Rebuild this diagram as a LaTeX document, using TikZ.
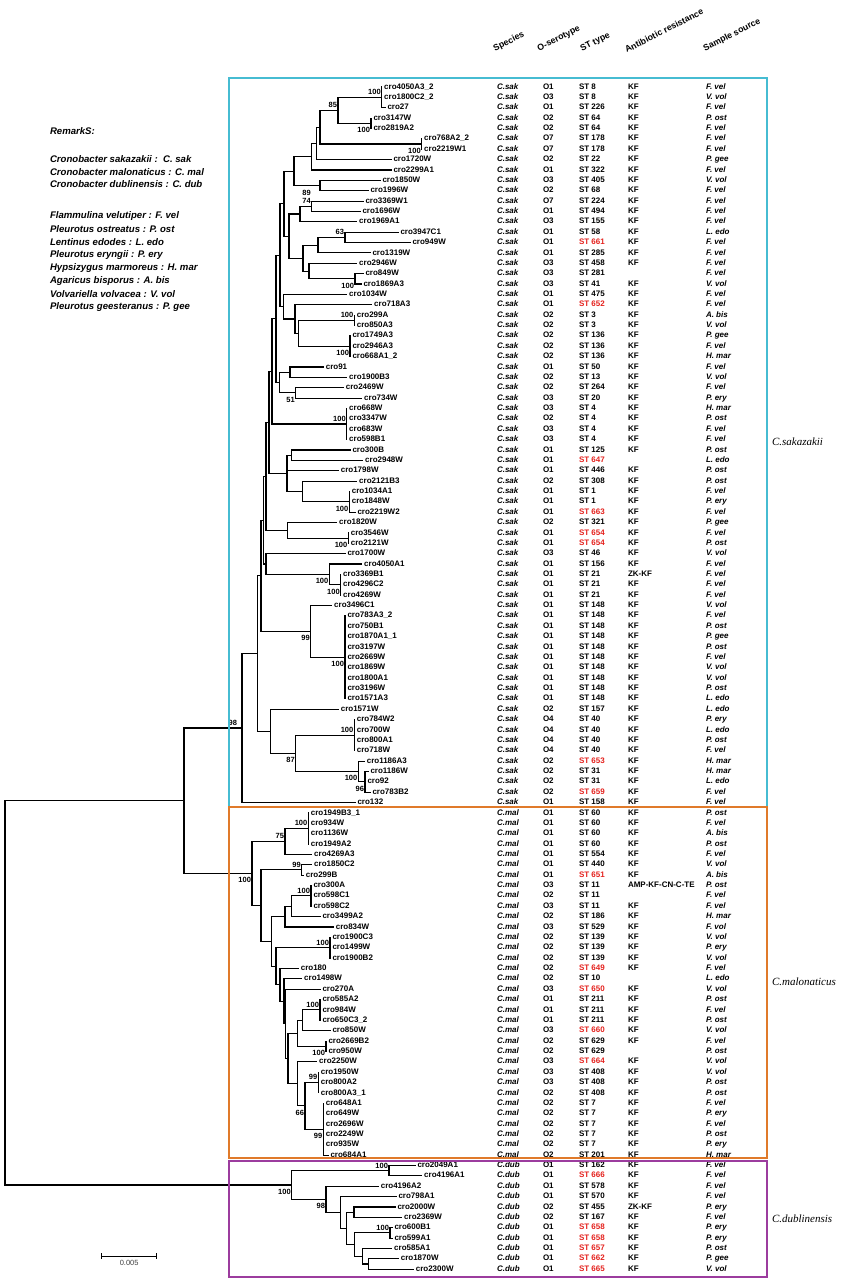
\documentclass[tikz,border=0pt]{standalone}
\usepackage{fontspec}
\setmainfont{Liberation Sans}
\newfontfamily\cladefont{Liberation Serif}
\usetikzlibrary{calc}
\definecolor{sakline}{RGB}{70,188,210}
\definecolor{malline}{RGB}{224,122,42}
\definecolor{dubline}{RGB}{156,60,158}
\definecolor{newst}{RGB}{228,34,30}
\newcommand{\newST}[1]{\textcolor{newst}{ST #1}}
% internal node: name, x, outer children, all children
\newcommand{\clade}[5]{%
  \path let \p1=($(#3)!.5!(#4)$) in coordinate (#1) at (#2pt,\y1);
  \foreach \kid in {#5} \draw[branch] (#1) |- (\kid);}
\begin{document}
\begin{tikzpicture}[x=1pt,y=-1pt,inner sep=0pt,outer sep=0pt,
  branch/.style={line width=1.1pt,line cap=rect},
  leaf/.style={anchor=west,inner sep=2.5pt,font=\bfseries\fontsize{8}{9}\selectfont,text height=5.8pt,text depth=1.6pt},
  cell/.style={anchor=west,font=\bfseries\fontsize{8}{9}\selectfont,text height=5.8pt,text depth=1.6pt},
  italcell/.style={cell,font=\bfseries\itshape\fontsize{8}{9}\selectfont},
  boot/.style={inner sep=1pt,font=\bfseries\fontsize{7.5}{8}\selectfont},
  bu/.style={boot,anchor=south east,yshift=1.5pt},
  bd/.style={boot,anchor=north east,yshift=-3pt},
  colhead/.style={anchor=south west,rotate=27,font=\bfseries\fontsize{8.8}{10}\selectfont},
  remark/.style={anchor=west,font=\bfseries\itshape\fontsize{9.6}{11}\selectfont},
  cladename/.style={anchor=west,font=\cladefont\itshape\fontsize{11}{13}\selectfont},
  frame/.style={line width=1.8pt}]
\useasboundingbox (0,0) rectangle (850,1282);

% column heads
\foreach \hx/\htxt [count=\k] in {496/Species,540/O-serotype,583/ST type,627/Antibiotic resistance,706/Sample source}
  \node[colhead] (head\k) at (\hx,53) {\htxt};

% remarks
\node[remark] (rem0) at (50,131) {RemarkS:};
\foreach \yy/\rtxt [count=\k] in {159/Cronobacter sakazakii :\ \ C. sak,172/Cronobacter malonaticus : C. mal,
  184/Cronobacter dublinensis : C. dub,216/Flammulina velutiper : F. vel,229/Pleurotus ostreatus : P. ost,
  242/Lentinus edodes : L. edo,255/Pleurotus eryngii : P. ery,268/Hypsizygus marmoreus : H. mar,
  281/Agaricus bisporus : A. bis,294/Volvariella volvacea : V. vol,307/Pleurotus geesteranus : P. gee}
  \node[remark] (rem\k) at (50,\yy) {\rtxt};

% leaves and table rows
\foreach \i/\tx/\nm/\spc/\ot/\stt/\ab/\src in {
 1/381.7/cro4050A3\_2/sak/O1/ST 8/KF/F. vel,
 2/381.7/cro1800C2\_2/sak/O3/ST 8/KF/V. vol,
 3/385/cro27/sak/O1/ST 226/KF/F. vel,
 4/371/cro3147W/sak/O2/ST 64/KF/P. ost,
 5/371/cro2819A2/sak/O2/ST 64/KF/F. vel,
 6/421.7/cro768A2\_2/sak/O7/ST 178/KF/F. vel,
 7/421.7/cro2219W1/sak/O7/ST 178/KF/F. vel,
 8/391/cro1720W/sak/O2/ST 22/KF/P. gee,
 9/391/cro2299A1/sak/O1/ST 322/KF/F. vel,
 10/380/cro1850W/sak/O3/ST 405/KF/V. vol,
 11/368/cro1996W/sak/O2/ST 68/KF/F. vel,
 12/363/cro3369W1/sak/O7/ST 224/KF/F. vel,
 13/360/cro1696W/sak/O1/ST 494/KF/F. vel,
 14/356.7/cro1969A1/sak/O3/ST 155/KF/F. vel,
 15/398/cro3947C1/sak/O1/ST 58/KF/L. edo,
 16/410/cro949W/sak/O1/\newST{661}/KF/F. vel,
 17/370/cro1319W/sak/O1/ST 285/KF/F. vel,
 18/356.7/cro2946W/sak/O3/ST 458/KF/F. vel,
 19/363/cro849W/sak/O3/ST 281/{}/F. vel,
 20/361/cro1869A3/sak/O3/ST 41/KF/V. vol,
 21/346.7/cro1034W/sak/O1/ST 475/KF/F. vel,
 22/371.7/cro718A3/sak/O1/\newST{652}/KF/F. vel,
 23/354.3/cro299A/sak/O2/ST 3/KF/A. bis,
 24/354.3/cro850A3/sak/O2/ST 3/KF/V. vol,
 25/350/cro1749A3/sak/O2/ST 136/KF/P. gee,
 26/350/cro2946A3/sak/O2/ST 136/KF/F. vel,
 27/350/cro668A1\_2/sak/O2/ST 136/KF/H. mar,
 28/323.3/cro91/sak/O1/ST 50/KF/F. vel,
 29/346.7/cro1900B3/sak/O2/ST 13/KF/V. vol,
 30/343.3/cro2469W/sak/O2/ST 264/KF/F. vel,
 31/361.7/cro734W/sak/O3/ST 20/KF/P. ery,
 32/346.7/cro668W/sak/O3/ST 4/KF/H. mar,
 33/346.7/cro3347W/sak/O2/ST 4/KF/P. ost,
 34/346.7/cro683W/sak/O3/ST 4/KF/F. vel,
 35/346.7/cro598B1/sak/O3/ST 4/KF/F. vel,
 36/350/cro300B/sak/O1/ST 125/KF/P. ost,
 37/362.7/cro2948W/sak/O1/\newST{647}/{}/L. edo,
 38/338.3/cro1798W/sak/O1/ST 446/KF/P. ost,
 39/356.7/cro2121B3/sak/O2/ST 308/KF/P. ost,
 40/349.3/cro1034A1/sak/O1/ST 1/KF/F. vel,
 41/349.3/cro1848W/sak/O1/ST 1/KF/P. ery,
 42/355/cro2219W2/sak/O1/\newST{663}/KF/F. vel,
 43/336.7/cro1820W/sak/O2/ST 321/KF/P. gee,
 44/348.3/cro3546W/sak/O1/\newST{654}/KF/F. vel,
 45/348.3/cro2121W/sak/O1/\newST{654}/KF/P. ost,
 46/345/cro1700W/sak/O3/ST 46/KF/V. vol,
 47/361.7/cro4050A1/sak/O1/ST 156/KF/F. vel,
 48/340.7/cro3369B1/sak/O1/ST 21/ZK-KF/F. vel,
 49/340.7/cro4296C2/sak/O1/ST 21/KF/F. vel,
 50/340.7/cro4269W/sak/O1/ST 21/KF/F. vel,
 51/331.7/cro3496C1/sak/O1/ST 148/KF/V. vol,
 52/345/cro783A3\_2/sak/O1/ST 148/KF/F. vel,
 53/345/cro750B1/sak/O1/ST 148/KF/P. ost,
 54/345/cro1870A1\_1/sak/O1/ST 148/KF/P. gee,
 55/345/cro3197W/sak/O1/ST 148/KF/P. ost,
 56/345/cro2669W/sak/O1/ST 148/KF/F. vel,
 57/345/cro1869W/sak/O1/ST 148/KF/V. vol,
 58/345/cro1800A1/sak/O1/ST 148/KF/V. vol,
 59/345/cro3196W/sak/O1/ST 148/KF/P. ost,
 60/345/cro1571A3/sak/O1/ST 148/KF/L. edo,
 61/338.3/cro1571W/sak/O2/ST 157/KF/L. edo,
 62/354.3/cro784W2/sak/O4/ST 40/KF/P. ery,
 63/354.3/cro700W/sak/O4/ST 40/KF/L. edo,
 64/354.3/cro800A1/sak/O4/ST 40/KF/P. ost,
 65/354.3/cro718W/sak/O4/ST 40/KF/F. vel,
 66/364.3/cro1186A3/sak/O2/\newST{653}/KF/H. mar,
 67/368/cro1186W/sak/O2/ST 31/KF/H. mar,
 68/365/cro92/sak/O2/ST 31/KF/L. edo,
 69/370/cro783B2/sak/O2/\newST{659}/KF/F. vel,
 70/355/cro132/sak/O1/ST 158/KF/F. vel,
 71/308.3/cro1949B3\_1/mal/O1/ST 60/KF/P. ost,
 72/308.3/cro934W/mal/O1/ST 60/KF/F. vel,
 73/308.3/cro1136W/mal/O1/ST 60/KF/A. bis,
 74/308.3/cro1949A2/mal/O1/ST 60/KF/P. ost,
 75/311.7/cro4269A3/mal/O1/ST 554/KF/F. vel,
 76/311.7/cro1850C2/mal/O1/ST 440/KF/V. vol,
 77/303.3/cro299B/mal/O1/\newST{651}/KF/A. bis,
 78/311/cro300A/mal/O3/ST 11/AMP-KF-CN-C-TE/P. ost,
 79/311/cro598C1/mal/O2/ST 11/{}/F. vel,
 80/311/cro598C2/mal/O3/ST 11/KF/F. vel,
 81/320/cro3499A2/mal/O2/ST 186/KF/H. mar,
 82/333.3/cro834W/mal/O3/ST 529/KF/F. vol,
 83/330/cro1900C3/mal/O2/ST 139/KF/V. vol,
 84/330/cro1499W/mal/O2/ST 139/KF/P. ery,
 85/330/cro1900B2/mal/O2/ST 139/KF/V. vol,
 86/298.3/cro180/mal/O2/\newST{649}/KF/F. vel,
 87/301.7/cro1498W/mal/O2/ST 10/{}/L. edo,
 88/320/cro270A/mal/O3/\newST{650}/KF/V. vol,
 89/320/cro585A2/mal/O1/ST 211/KF/P. ost,
 90/320/cro984W/mal/O1/ST 211/KF/F. vel,
 91/320/cro650C3\_2/mal/O1/ST 211/KF/P. ost,
 92/330/cro850W/mal/O3/\newST{660}/KF/V. vol,
 93/326/cro2669B2/mal/O2/ST 629/KF/F. vel,
 94/326/cro950W/mal/O2/ST 629/{}/P. ost,
 95/316.7/cro2250W/mal/O3/\newST{664}/KF/V. vol,
 96/318.3/cro1950W/mal/O3/ST 408/KF/V. vol,
 97/318.3/cro800A2/mal/O3/ST 408/KF/P. ost,
 98/318.3/cro800A3\_1/mal/O2/ST 408/KF/P. ost,
 99/323.3/cro648A1/mal/O2/ST 7/KF/F. vel,
 100/323.3/cro649W/mal/O2/ST 7/KF/P. ery,
 101/323.3/cro2696W/mal/O2/ST 7/KF/F. vel,
 102/323.3/cro2249W/mal/O2/ST 7/KF/P. ost,
 103/323.3/cro935W/mal/O2/ST 7/KF/P. ery,
 104/328/cro684A1/mal/O2/ST 201/KF/H. mar,
 105/415/cro2049A1/dub/O1/ST 162/KF/F. vel,
 106/421.7/cro4196A1/dub/O1/\newST{666}/KF/F. vel,
 107/378.3/cro4196A2/dub/O1/ST 578/KF/F. vel,
 108/396/cro798A1/dub/O1/ST 570/KF/F. vel,
 109/395/cro2000W/dub/O2/ST 455/ZK-KF/P. ery,
 110/401.7/cro2369W/dub/O2/ST 167/KF/F. vel,
 111/392/cro600B1/dub/O1/\newST{658}/KF/P. ery,
 112/392/cro599A1/dub/O1/\newST{658}/KF/P. ery,
 113/391.7/cro585A1/dub/O1/\newST{657}/KF/P. ost,
 114/398.3/cro1870W/dub/O1/\newST{662}/KF/P. gee,
 115/413.3/cro2300W/dub/O1/\newST{665}/KF/V. vol}
{
  \pgfmathsetmacro\yy{87+(\i-1)*10.37}
  \coordinate (l\i) at (\tx,\yy);
  \node[leaf] (t\i) at (l\i) {\nm};
  \node[italcell] (sp\i) at (497,\yy) {C.\spc};
  \node[cell] (o\i) at (543,\yy) {\ot};
  \node[cell] (st\i) at (579,\yy) {\stt};
  \node[cell] (ab\i) at (628,\yy) {\ab};
  \node[italcell] (so\i) at (706,\yy) {\src};
}

% C. sakazakii
\clade{n1}{381.7}{l1}{l3}{l1,l2,l3}
\clade{n2}{371}{l4}{l5}{l4,l5}
\clade{n3}{338}{n1}{n2}{n1,n2}
\clade{n4}{421.7}{l6}{l7}{l6,l7}
\clade{n5}{320}{n3}{n4}{n3,n4}
\clade{n6}{316.7}{n5}{l8}{n5,l8}
\clade{n7}{311.7}{n6}{l9}{n6,l9}
\clade{n8}{320}{l10}{l11}{l10,l11}
\clade{n11}{294}{n7}{n8}{n7,n8}
\clade{n9}{311.7}{l12}{l13}{l12,l13}
\clade{n10}{300}{n9}{l14}{n9,l14}
\clade{n12}{345}{l15}{l16}{l15,l16}
\clade{n13}{318}{n12}{l17}{n12,l17}
\clade{n14}{355}{l19}{l20}{l19,l20}
\clade{n15}{309}{l18}{n14}{l18,n14}
\clade{n16}{303}{n13}{n15}{n13,n15}
\clade{n17}{289}{n10}{n16}{n10,n16}
\clade{n18}{284}{n11}{n17}{n11,n17}
\clade{n19}{354.3}{l23}{l24}{l23,l24}
\clade{n20}{350}{l25}{l27}{l25,l26,l27}
\clade{n21}{298.3}{n19}{n20}{n19,n20}
\clade{n22}{295}{l22}{n21}{l22,n21}
\clade{n23}{283.3}{l21}{n22}{l21,n22}
\clade{n24}{280}{n18}{n23}{n18,n23}
\clade{n25}{290}{l28}{l29}{l28,l29}
\clade{n26}{295.7}{l30}{l31}{l30,l31}
\clade{n27}{279.3}{n25}{n26}{n25,n26}
\clade{n28}{346.7}{l32}{l35}{l32,l33,l34,l35}
\clade{n29}{291.7}{l36}{l37}{l36,l37}
\clade{n31}{349.3}{l40}{l42}{l40,l41,l42}
\clade{n32}{302.3}{l39}{n31}{l39,n31}
\clade{n30}{287}{n29}{n32}{n29,l38,n32}
\clade{n34}{348.3}{l44}{l45}{l44,l45}
\clade{n35}{287.7}{l43}{n34}{l43,n34}
\clade{n36}{340.7}{l48}{l50}{l48,l49,l50}
\clade{n37}{329.3}{l47}{n36}{l47,n36}
\clade{n38}{266}{l46}{n37}{l46,n37}
\clade{n39}{345}{l52}{l60}{l52,l53,l54,l55,l56,l57,l58,l59,l60}
\clade{n40}{310.7}{l51}{n39}{l51,n39}
\clade{n41}{354.3}{l62}{l65}{l62,l63,l64,l65}
\clade{n42}{365}{l67}{l69}{l67,l68,l69}
\clade{n43}{358.3}{l66}{n42}{l66,n42}
\clade{n44}{295.7}{n41}{n43}{n41,n43}
\clade{n45}{270.7}{l61}{n44}{l61,n44}
\clade{k1}{276}{n24}{n27}{n24,n27}
\clade{k2}{272}{k1}{n28}{k1,n28}
\clade{k3}{269}{k2}{n30}{k2,n30}
\clade{k4}{266}{k3}{n35}{k3,n35}
\clade{k5}{263.5}{k4}{n38}{k4,n38}
\clade{k6}{261}{k5}{n40}{k5,n40}
\clade{k7}{257.7}{k6}{n45}{k6,n45}
\clade{sak0}{242}{k7}{l70}{k7,l70}

% C. malonaticus
\clade{m1}{308.3}{l71}{l74}{l71,l72,l73,l74}
\clade{m2}{285}{m1}{l75}{m1,l75}
\clade{m3}{301.7}{l76}{l77}{l76,l77}
\clade{m4}{311}{l78}{l80}{l78,l79,l80}
\clade{m5}{291.7}{m4}{l81}{m4,l81}
\clade{m6}{285}{m5}{l82}{m5,l82}
\clade{m7}{330}{l83}{l85}{l83,l84,l85}
\clade{m10}{320}{l89}{l91}{l89,l90,l91}
\clade{m11}{302.3}{m10}{l92}{m10,l92}
\clade{m12}{326}{l93}{l94}{l93,l94}
\clade{m13}{297.3}{m11}{m12}{m11,m12}
\clade{m14}{318.3}{l96}{l98}{l96,l97,l98}
\clade{m15}{323.3}{l99}{l104}{l99,l100,l101,l102,l103,l104}
\clade{m16}{305}{m14}{m15}{m14,m15}
\clade{m17}{297.3}{l95}{m16}{l95,m16}
\clade{m18}{288}{m13}{m17}{m13,m17}
\clade{m19}{285.5}{l88}{m18}{l88,m18}
\clade{m20}{284}{l87}{m19}{l87,m19}
\clade{m21}{280}{l86}{m20}{l86,m20}
\clade{m22}{276}{m7}{m21}{m7,m21}
\clade{m23}{271.7}{m6}{m22}{m6,m22}
\clade{m24}{261}{m3}{m23}{m3,m23}
\clade{mal0}{252}{m2}{m24}{m2,m24}

% C. dublinensis
\clade{d1}{389}{l105}{l106}{l105,l106}
\clade{d2}{354}{l109}{l110}{l109,l110}
\clade{d3}{390}{l111}{l112}{l111,l112}
\clade{d4}{368.3}{l114}{l115}{l114,l115}
\clade{d5}{362.7}{l113}{d4}{l113,d4}
\clade{d6}{354.3}{d3}{d5}{d3,d5}
\clade{d7}{346.7}{d2}{d6}{d2,d6}
\clade{d8}{340.7}{l108}{d7}{l108,d7}
\clade{d9}{326}{l107}{d8}{l107,d8}
\clade{dub0}{291.7}{d1}{d9}{d1,d9}

\clade{sakmal}{184}{sak0}{mal0}{sak0,mal0}
\clade{root}{5}{sakmal}{dub0}{sakmal,dub0}

% bootstrap values
\foreach \n/\v/\s in {n1/100/bu,n2/100/bd,n3/85/bu,n4/100/bd,n9/74/bu,n12/63/bu,n14/100/bd,
  n19/100/bu,n20/100/bd,n26/51/bd,n28/100/bu,n31/100/bd,n34/100/bd,n36/100/bd,n37/100/bd,
  n39/100/bd,n40/99/bd,n41/100/bu,n42/96/bd,n43/100/bd,n44/87/bd,
  m1/100/bu,m2/75/bu,m3/99/bu,m4/100/bu,m7/100/bu,m10/100/bu,m12/100/bd,m14/99/bu,
  m15/99/bd,m16/66/bd,mal0/100/bd,d1/100/bu,d3/100/bu,d9/98/bd,dub0/100/bd}
  \node[\s] (bs\n) at (\n) {\v};
\node[bu] (bs89) at ($(n9)+(0,-8)$) {89};
\node[bu,xshift=-4pt] (bssak0) at (sak0) {98};

% clade frames
\draw[frame,sakline] (229,78) rectangle (767,807);
\draw[frame,malline] (229,807) rectangle (767,1158);
\draw[frame,dubline] (229,1161) rectangle (767,1277);
\node[cladename] (labsak) at (772,442) {C.sakazakii};
\node[cladename] (labmal) at (772,982) {C.malonaticus};
\node[cladename] (labdub) at (772,1219) {C.dublinensis};

% scale bar
\coordinate (sbl) at (101.7,1256);
\coordinate (sbr) at (156.7,1256);
\draw[line width=0.9pt] (sbl) -- (sbr);
\draw[line width=0.9pt] ([yshift=3pt]sbl) -- ([yshift=-3pt]sbl);
\draw[line width=0.9pt] ([yshift=3pt]sbr) -- ([yshift=-3pt]sbr);
\node[font=\fontsize{7.5}{8}\selectfont,text=black!75,below=4pt] (sbtext) at ($(sbl)!.5!(sbr)$) {0.005};
\end{tikzpicture}
\end{document}
